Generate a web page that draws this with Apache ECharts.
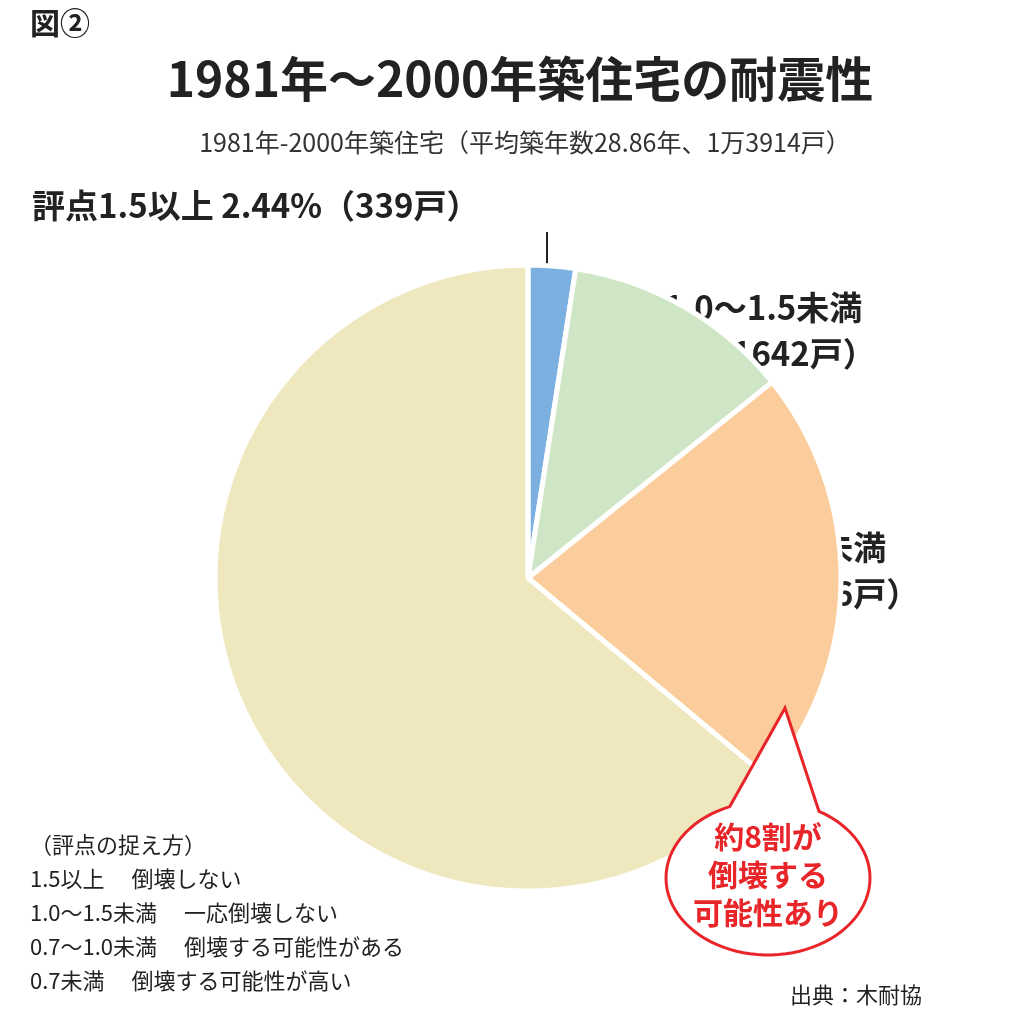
<!DOCTYPE html>
<html><head><meta charset="utf-8">
<script src="https://cdn.jsdelivr.net/npm/echarts@6/dist/echarts.min.js"></script>
<style>html,body{margin:0;padding:0;background:#fff}#c{width:1009px;height:1023px}</style>
</head><body><div id="c"></div>
<script>
const categories = ['評点1.5以上','評点1.0～1.5未満','評点0.7～1.0未満','評点0.7未満'];
const percents = [2.44, 11.8, 21.82, 63.94];
const households = [339, 1642, 3036, 8897];
const colors = ['#7cb0e0','#cfe6c6','#fccd9c','#efe8be'];
const legendLines = ['（評点の捉え方）','1.5以上　 倒壊しない','1.0～1.5未満　 一応倒壊しない','0.7～1.0未満　 倒壊する可能性がある','0.7未満　 倒壊する可能性が高い'];
const F = '"Noto Sans CJK JP", sans-serif';
const chart = echarts.init(document.getElementById('c'));
const big = {fontFamily:F, fontSize:33, fontWeight:'bold', fill:'#222', lineHeight:46};
const txt = (x,y,t,st,align) => ({type:'text', x:x, y:y, style:Object.assign({text:t, textAlign:align||'left', textVerticalAlign:'top'}, st)});
// speech bubble outline
const bub = [];
const cx=768, cy=878, rx=102, ry=77;
for (let a=0;a<=360;a+=4){
  const r=a*Math.PI/180;
  const px=cx+rx*Math.cos(r), py=cy+ry*Math.sin(r);
  bub.push([px,py]);
}
// insert pointer between angles ~ -60 (upper right) and -115 (upper left)
const pts=[];
bub.forEach(p=>{
  const ang=Math.atan2((p[1]-cy)/ry,(p[0]-cx)/rx)*180/Math.PI;
  if(!(ang<-62 && ang>-112)) pts.push(p);
  else if(pts.length && !pts.tip){ pts.push([785,708]); pts.tip=true; }
});
const graphics = [
  txt(30,8,'図②',{fontFamily:F,fontSize:30,fontWeight:'bold',fill:'#222'}),
  txt(520,55,'1981年～2000年築住宅の耐震性',{fontFamily:F,fontSize:48,fontWeight:'bold',fill:'#222'},'center'),
  txt(525,130,'1981年-2000年築住宅（平均築年数28.86年、1万3914戸）',{fontFamily:F,fontSize:25,fill:'#333'},'center'),
  txt(32,182,categories[0]+' '+percents[0].toFixed(2)+'%（'+households[0]+'戸）',big),
  txt(598,284,categories[1]+'\n'+percents[1]+'%（'+households[1]+'戸）',big),
  txt(622,524,categories[2]+'\n'+percents[2]+'%（'+households[2]+'戸）',big),
  txt(365,534,categories[3]+'\n'+percents[3]+'%\n（'+households[3]+'戸）',big,'center'),
  {type:'line', shape:{x1:547,y1:232,x2:547,y2:272}, style:{stroke:'#222',lineWidth:2}},
  txt(30,828,legendLines.join('\n'),{fontFamily:F,fontSize:22,fill:'#222',lineHeight:34}),
  txt(790,984,'出典：木耐協',{fontFamily:F,fontSize:22,fill:'#222'}),
  {type:'polygon', z:10, shape:{points:pts}, style:{fill:'#fff',stroke:'#e8262a',lineWidth:3}},
  txt(768,818,'約8割が\n倒壊する\n可能性あり',{fontFamily:F,fontSize:30,fontWeight:'bold',fill:'#e8262a',lineHeight:38},'center')
];
graphics[graphics.length-1].z=11;
chart.setOption({
  animation:false,
  series:[{type:'pie', center:[528,578], radius:[0,313], startAngle:90, clockwise:true,
    label:{show:false}, labelLine:{show:false},
    itemStyle:{borderColor:'#fff', borderWidth:5},
    data:categories.map((c,i)=>({name:c, value:percents[i], itemStyle:{color:colors[i]}}))}],
  graphic:graphics
});
</script></body></html>
